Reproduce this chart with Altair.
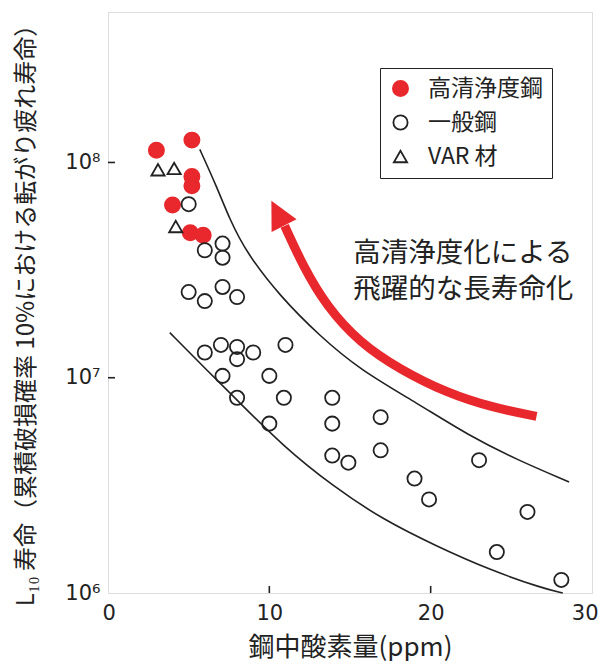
import altair as alt
import pandas as pd

# ---- data ----
red_x = [3.0, 5.2, 5.2, 5.2, 4.0, 5.1, 5.9]
red_y = [1.14e8, 1.27e8, 8.6e7, 7.8e7, 6.35e7, 4.72e7, 4.59e7]

var_x = [3.1, 4.1, 4.2]
var_y = [9.25e7, 9.38e7, 5.04e7]

gen_x = [5.0, 6.0, 7.1, 7.1, 5.0, 6.0, 7.1, 8.0, 6.0, 7.0, 8.0, 8.0, 9.0, 11.0,
         7.1, 10.0, 8.0, 10.9, 10.0, 13.9, 13.9, 16.9, 13.9, 14.9, 16.9, 23.0,
         19.0, 19.9, 26.0, 24.1, 28.1]
gen_y = [6.4e7, 3.91e7, 4.2e7, 3.61e7, 2.5e7, 2.27e7, 2.64e7, 2.37e7, 1.31e7,
         1.42e7, 1.39e7, 1.22e7, 1.31e7, 1.42e7, 1.02e7, 1.02e7, 8.07e6, 8.07e6,
         6.12e6, 8.07e6, 6.12e6, 6.56e6, 4.35e6, 4.03e6, 4.6e6, 4.14e6, 3.4e6,
         2.72e6, 2.38e6, 1.55e6, 1.15e6]

upper_x = [5.69, 6.72, 7.54, 8.58, 10.64, 13.13, 15.61, 19.12, 22.43, 25.32, 28.58]
upper_y = [1.15e8, 7.78e7, 5.45e7, 3.81e7, 2.40e7, 1.56e7, 1.09e7, 7.65e6, 5.35e6, 4.17e6, 3.28e6]

lower_x = [3.83, 5.89, 7.96, 10.85, 13.95, 17.05, 20.36, 23.66, 26.97, 28.19]
lower_y = [1.62e7, 1.13e7, 7.93e6, 4.81e6, 3.13e6, 2.19e6, 1.65e6, 1.28e6, 1.05e6, 1.0e6]

arrow_x = [10.95, 12.09, 13.54, 15.60, 18.08, 20.98, 23.87, 26.56]
arrow_y = [5.07e7, 3.30e7, 2.15e7, 1.455e7, 1.094e7, 8.51e6, 7.25e6, 6.62e6]
head_x = [10.52]
head_y = [5.81e7]

note_lines = ["高清浄度化による", "飛躍的な長寿命化"]
note_x = [15.2]
note_y = [3.75e7]

series_names = ["高清浄度鋼", "一般鋼", "VAR 材"]
x_ticks = [0, 10, 20, 30]
y_ticks = [1e6, 1e7, 1e8]

RED = "#e8282d"
INK = "#222222"
W, H = 484, 581

pts = pd.DataFrame(
    [{"x": a, "y": b, "type": series_names[0]} for a, b in zip(red_x, red_y)]
    + [{"x": a, "y": b, "type": series_names[1]} for a, b in zip(gen_x, gen_y)]
    + [{"x": a, "y": b, "type": series_names[2]} for a, b in zip(var_x, var_y)]
)
curves = pd.DataFrame(
    [{"x": a, "y": b, "c": "upper"} for a, b in zip(upper_x, upper_y)]
    + [{"x": a, "y": b, "c": "lower"} for a, b in zip(lower_x, lower_y)]
)
arrow = pd.DataFrame({"x": arrow_x, "y": arrow_y})
head = pd.DataFrame({"x": head_x, "y": head_y})
notes = pd.DataFrame({"x": note_x, "y": note_y, "t": ["\n".join(note_lines)]})
xt = pd.DataFrame({"x": [10, 20]})
yt = pd.DataFrame({"y": [1e7, 1e8]})

xscale = alt.Scale(domain=[0, 30], nice=False, zero=False)
yscale = alt.Scale(type="log", domain=[1e6, 5e8], nice=False)

xaxis = alt.Axis(
    values=x_ticks, ticks=False, domain=False, grid=False,
    labelFlush=True, labelFlushOffset=6,
    labelFont="DejaVu Sans", labelFontSize=21, labelColor=INK, labelPadding=9,
    title="鋼中酸素量(ppm)", titleFont="Noto Sans CJK JP", titleFontSize=26,
    titleFontWeight="normal", titleColor=INK, titlePadding=11,
)
yaxis = alt.Axis(
    values=y_ticks, ticks=False, domain=False, grid=False, labelFlush=False,
    labelExpr="datum.value == 1000000 ? '10⁶' : (datum.value == 10000000 ? '10⁷' : '10⁸')",
    labelFont="DejaVu Sans", labelFontSize=21, labelColor=INK, labelPadding=8,
    title="L₁₀ 寿命（累積破損確率 10%における転がり疲れ寿命）",
    titleFont="Noto Sans CJK JP", titleFontSize=24, titleFontWeight="normal",
    titleColor=INK, titleX=-82, titleY=297, titleAngle=270,
    titleAlign="center", titleBaseline="middle",
)

X = alt.X("x:Q", scale=xscale, axis=xaxis)
Y = alt.Y("y:Q", scale=yscale, axis=yaxis)

legend = alt.Legend(
    title=None, orient="none", legendX=272, legendY=56,
    labelFont="Noto Sans CJK JP", labelFontSize=23, labelColor=INK,
    labelOffset=16, padding=9, rowPadding=10,
    strokeColor=INK, fillColor="white", symbolStrokeWidth=1.8,
)

points = alt.Chart(pts).mark_point(strokeWidth=1.8, opacity=1).encode(
    x=X, y=Y,
    shape=alt.Shape("type:N", scale=alt.Scale(domain=series_names,
                    range=["circle", "circle", "triangle-up"]), legend=legend),
    fill=alt.Fill("type:N", scale=alt.Scale(domain=series_names,
                  range=[RED, "transparent", "transparent"]), legend=legend),
    stroke=alt.Stroke("type:N", scale=alt.Scale(domain=series_names,
                      range=[RED, INK, INK]), legend=legend),
    size=alt.Size("type:N", scale=alt.Scale(domain=series_names,
                  range=[230, 175, 210]), legend=legend),
)

lines = alt.Chart(curves).mark_line(color=INK, strokeWidth=1.6, interpolate="basis").encode(
    x=X, y=Y, detail="c:N"
)

arrow_line = alt.Chart(arrow).mark_line(color=RED, strokeWidth=9, interpolate="basis",
                                        strokeCap="butt").encode(x=X, y=Y)
arrow_head = alt.Chart(head).mark_point(
    shape="M0,-1L-1,1L1,1Z", filled=True, color=RED, opacity=1, size=784, angle=333
).encode(x=X, y=Y)

note = alt.Chart(notes).mark_text(
    align="left", baseline="middle", font="Noto Sans CJK JP", fontSize=27.5,
    color=INK, lineBreak="\n", lineHeight=36
).encode(x=X, y=Y, text="t:N")

xticks = alt.Chart(xt).mark_rule(color=INK, strokeWidth=1.6).encode(
    x=X, y=alt.value(H), y2=alt.value(H - 7)
)
yticks = alt.Chart(yt).mark_rule(color=INK, strokeWidth=1.6).encode(
    y=Y, x=alt.value(0), x2=alt.value(7)
)

chart = alt.layer(lines, arrow_line, arrow_head, note, xticks, yticks, points).properties(
    width=W, height=H,
    autosize=alt.AutoSizeParams(type="none"),
    padding={"left": 100, "top": 4, "right": 11, "bottom": 68},
).configure_view(stroke=INK, strokeWidth=2).configure(background="white")

chart.save("out.html", embed_options={"renderer": "svg", "actions": False})
